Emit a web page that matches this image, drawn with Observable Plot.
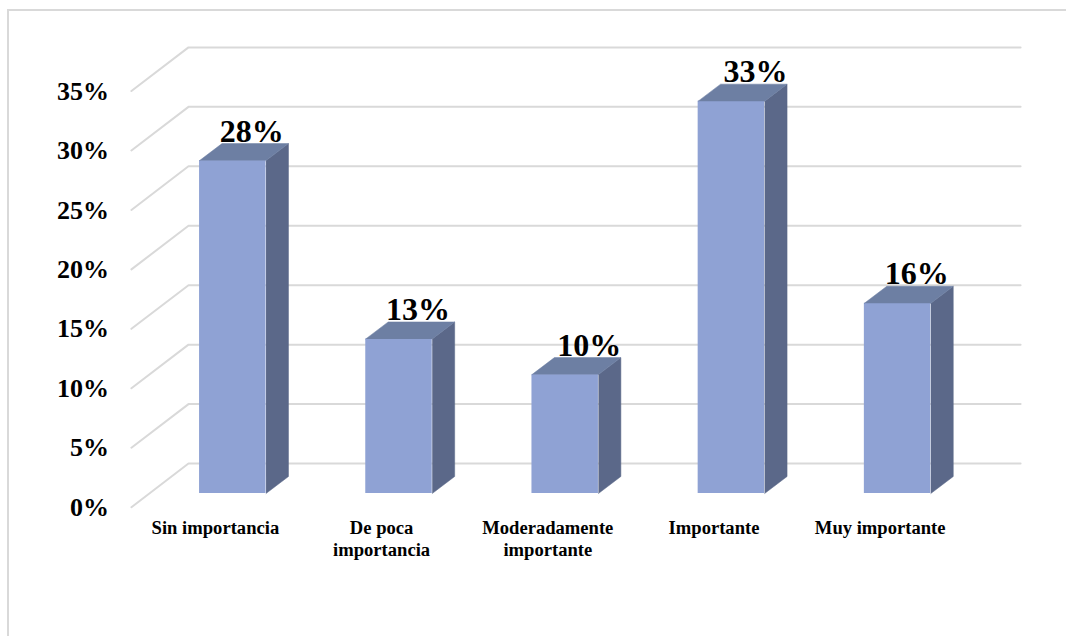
<!DOCTYPE html>
<html lang="es">
<head>
<meta charset="utf-8">
<title>Importancia</title>
<script src="https://cdn.jsdelivr.net/npm/d3@7"></script>
<script src="https://cdn.jsdelivr.net/npm/@observablehq/plot@0.6"></script>
<style>
  html, body { margin: 0; padding: 0; background: #fff; }
  #frame {
    position: absolute; left: 7px; top: 9px; right: 0; bottom: 0;
    border-left: 2px solid #d9d9d9; border-top: 2px solid #d9d9d9;
  }
  #chart { position: absolute; left: 0; top: 0; }
  svg { overflow: visible; }
</style>
</head>
<body>
<div id="frame"></div>
<div id="chart"></div>
<script>
// Respuestas por categoría (porcentaje)
const categories = ["Sin importancia", "De poca\nimportancia", "Moderadamente\nimportante", "Importante", "Muy importante"];
const values = [28, 13, 10, 33, 16];
const ticks = [0, 5, 10, 15, 20, 25, 30, 35];

// Fake-perspective offsets, in scale units (categories on x, percent on y)
const halfBar = 0.2;
const depthX = 0.135;
const depthY = 1.43;
const floorFrontX = -0.61;
const floorFrontY = -1.15;
const wallLeftX = -0.2666;
const wallRightX = 4.74;
const wallY = 2.52;

const fontFamily = "'Liberation Serif', serif";
const grey = "#d9d9d9";

const bars = values.map((v, i) => ({i, v, label: categories[i]}));

// Each gridline runs along the floor edge, then across the back wall
const gridPath = ticks.flatMap((t) => [
  {t, x: floorFrontX, y: t + floorFrontY},
  {t, x: wallLeftX, y: t + wallY},
  {t, x: wallRightX, y: t + wallY}
]);

// Side and top faces of each column as closed polygons
const sideFace = bars.flatMap(({i, v}) => [
  {i, x: i + halfBar, y: 0},
  {i, x: i + halfBar + depthX, y: depthY},
  {i, x: i + halfBar + depthX, y: v + depthY},
  {i, x: i + halfBar, y: v}
]);
const topFace = bars.flatMap(({i, v}) => [
  {i, x: i - halfBar, y: v},
  {i, x: i - halfBar + depthX, y: v + depthY},
  {i, x: i + halfBar + depthX, y: v + depthY},
  {i, x: i + halfBar, y: v}
]);

// Value labels sit above the back edge of the column's top face
const valueLabel = (extra) => Plot.text(bars, {
  x: (d) => d.i + depthX * 0.85,
  y: (d) => d.v + depthY,
  text: (d) => `${d.v}%`,
  fontSize: 32,
  fontWeight: "bold",
  fontFamily,
  fill: "#000",
  lineAnchor: "bottom",
  dy: -2,
  ...extra
});
const shiftedLabel = (d) => d.v === 10 || d.v === 33;

const chart = Plot.plot({
  width: 1066,
  height: 636,
  marginLeft: 108.5,
  marginRight: 0,
  marginTop: 0,
  marginBottom: 0,
  style: {background: "transparent", fontFamily},
  x: {type: "linear", axis: null, domain: [0, 4], range: [232.3, 897.1]},
  y: {type: "linear", domain: [0, 35], range: [493, 76.85]},
  marks: [
    Plot.line(gridPath, {x: "x", y: "y", z: "t", stroke: grey, strokeWidth: 2, curve: "linear"}),
    Plot.axisY({
      ticks,
      tickFormat: (d) => `${d}%`,
      tickSize: 0,
      tickPadding: 0,
      label: null,
      fontSize: 26,
      fontWeight: "bold",
      fontFamily,
      fill: "#000",
      dy: 14
    }),
    Plot.rect(bars, {
      x1: (d) => d.i - halfBar,
      x2: (d) => d.i + halfBar,
      y1: 0,
      y2: "v",
      fill: "#8fa2d4",
      inset: 0
    }),
    Plot.line(sideFace, {x: "x", y: "y", z: "i", fill: "#5b6889", stroke: "#5b6889", strokeWidth: 0.5, curve: "linear"}),
    Plot.line(topFace, {x: "x", y: "y", z: "i", fill: "#6d7fa3", stroke: "#6d7fa3", strokeWidth: 0.5, curve: "linear"}),
    valueLabel({filter: (d) => !shiftedLabel(d)}),
    valueLabel({filter: shiftedLabel, dx: 5}),
    Plot.text(bars, {
      x: "i",
      y: 0,
      text: "label",
      fontSize: 18.6,
      fontWeight: "bold",
      fontFamily,
      fill: "#000",
      lineAnchor: "top",
      lineHeight: 1.17,
      dx: -17.4,
      dy: 25
    })
  ]
});

document.getElementById("chart").appendChild(chart);
</script>
</body>
</html>
